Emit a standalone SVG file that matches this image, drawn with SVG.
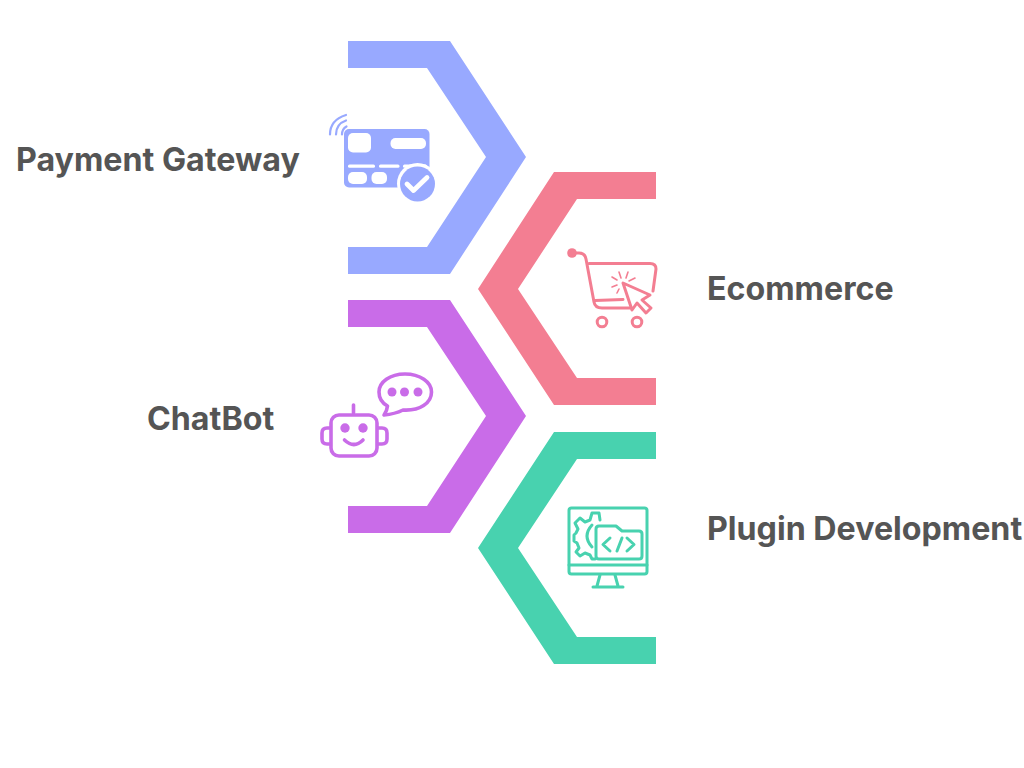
<svg xmlns="http://www.w3.org/2000/svg" width="1024" height="768" viewBox="0 0 1024 768">
<style>
.label{font-family:"Inter","Liberation Sans",sans-serif;font-weight:700;font-size:32.2px;fill:#555555}
.line{fill:none;stroke-width:3;stroke-linecap:round;stroke-linejoin:round}
.thick{stroke-width:3.600}
.thin{stroke-width:1.600}
.blue{fill:#98a9ff}.pink{fill:#f37e92}.purple{fill:#c96ce8}.green{fill:#48d2af}
.sp{stroke:#f37e92}.su{stroke:#c96ce8}.sg{stroke:#48d2af}.sb{stroke:#98a9ff}
</style>
<rect width="1024" height="768" fill="#ffffff"/>
<g id="payment-gateway">
<path class="blue" d="M348 41H450L526 157L450 274H348V247H427L486 157L427 68H348Z"/>
<g id="payment-icon">
<path class="line sb" stroke-width="2.200" style="stroke-width:2.200" d="M330 134.500Q330 120 346 115M336 134.500Q336 124 346 120.500M342 134.500Q342 129 346.500 126.500"/>
<rect class="blue" x="344" y="129" width="85.500" height="58.500" rx="5"/>
<g fill="#ffffff">
<rect x="348" y="133" width="23" height="19.500" rx="5"/>
<rect x="390.500" y="138" width="35.500" height="11" rx="5"/>
<rect x="348" y="164.500" width="27" height="3.200" rx="1.500"/>
<rect x="379" y="164.500" width="20.500" height="3.200" rx="1.500"/>
<rect x="403" y="164.500" width="24" height="3.200" rx="1.500"/>
<rect x="348" y="172" width="19" height="12" rx="5"/>
<rect x="371.500" y="172" width="15.500" height="12" rx="5"/>
<circle cx="417.500" cy="183.500" r="20.500"/>
</g>
<circle class="blue" cx="417.500" cy="184" r="17.500"/>
<path d="M407 184L413.500 190.500L427 177.500" fill="none" stroke="#ffffff" stroke-width="4.800" stroke-linecap="round" stroke-linejoin="round"/>
</g>
<text class="label" x="16" y="170.500">Payment Gateway</text>
</g>
<g id="ecommerce">
<path class="pink" d="M656 172H554L478 289L554 405H656V378H577L518 289L577 199H656Z"/>
<g id="ecommerce-icon">
<circle class="pink" cx="572" cy="253" r="4.800"/>
<path class="line sp" d="M572 253H579Q585 253 586 259L594 302Q595 308 602 308H630M589 263.500H650Q656 263.500 656 269L653 291M595 300.500L623 299.500"/>
<circle class="line sp" cx="602" cy="322" r="4.800"/>
<circle class="line sp" cx="637" cy="322" r="4.800"/>
<path class="line sp" d="M623 283L632 310L637 303L646 313L651 308L642 300L650 295Z"/>
<path class="line sp thin" d="M619 272L621 278M628 272L626 278M612 277L617 280M612 287L617 285M617 293L619 289M635 278L629 281"/>
</g>
<text class="label" x="707" y="299.500">Ecommerce</text>
</g>
<g id="chatbot">
<path class="purple" d="M348 300H450L526 416L450 533H348V506H427L486 416L427 327H348Z"/>
<g id="chatbot-icon">
<path class="line su thick" d="M353.500 405V413"/>
<rect class="line su thick" x="331" y="415" width="46" height="41" rx="8"/>
<path class="line su thick" d="M330 428H327Q322 428 322 433V439Q322 444 327 444H330M378 428H382Q387 428 387 433V439Q387 444 382 444H378"/>
<circle class="purple" cx="345" cy="428" r="4.700"/>
<circle class="purple" cx="363" cy="428" r="4.700"/>
<path class="line su thick" d="M344.500 440Q354 449 363 440"/>
<path class="line su thick" d="M405 374C390 374 379 382 379 392C379 398 382 403 387.500 406Q387 411 384 415Q395 414 403 410C420 411 431.500 403 431.500 392C431.500 382 420 374 405 374Z"/>
<circle class="purple" cx="392" cy="392" r="4.500"/>
<circle class="purple" cx="404.500" cy="392" r="4.500"/>
<circle class="purple" cx="418" cy="392" r="4.500"/>
</g>
<text class="label" x="147" y="429.500">ChatBot</text>
</g>
<g id="plugin-development">
<path class="green" d="M656 432H554L478 548L554 664H656V637H577L518 548L577 459H656Z"/>
<g id="plugin-icon">
<rect class="line sg" x="569" y="508" width="78" height="66" rx="2.500"/>
<path class="line sg" d="M569 565H647M600 575L597 586M615 575L618 586M593 587H623"/>
<path class="line sg" d="M600 520L599 513H592L590 520L585 522L580 518L575 523L578 529L576 533L574 535V541L577 543L579 548L576 552L580 556L585 553L590 555L592 559H595"/>
<path class="line sg" d="M592 525Q582 536 592 547"/>
<path class="line sg" d="M596 556V529Q596 526 599 526H616L622 531H639Q642 531 642 534V556Q642 559 639 559H599Q596 559 596 556Z"/>
<path class="line sg" d="M610 538L603 544.500L610 551M627 538L634 544.500L627 551M622 538L617 551"/>
</g>
<text class="label" x="707" y="539.500">Plugin Development</text>
</g>
</svg>
